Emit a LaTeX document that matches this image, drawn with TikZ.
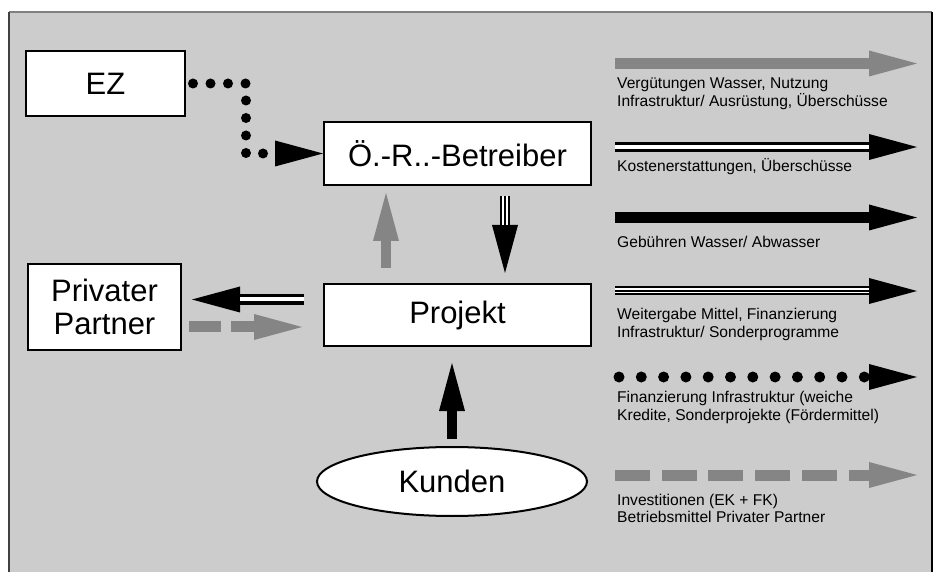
\documentclass[tikz,border=0pt]{standalone}
\usepackage{fontspec}
\setmainfont{Liberation Sans}
\usetikzlibrary{arrows.meta,positioning,shapes.geometric}
\definecolor{panelgray}{HTML}{CCCCCC}
\definecolor{flowgray}{HTML}{858585}

\begin{document}
\begin{tikzpicture}[x=1pt,y=-1pt,
box/.style={draw,line width=2pt,fill=white,align=center,inner sep=0pt,font=\fontsize{31}{32.5}\selectfont},
legend/.style={anchor=base west,align=left,inner sep=0pt,font=\fontsize{15.6}{17.5}\selectfont},
head/.style={-{Triangle[length=48pt,width=26pt,line width=0pt]}},
solidflow/.style={head,line width=10pt},
grayflow/.style={solidflow,draw=flowgray},
dashflow/.style={grayflow,dash pattern=on 33pt off 11pt},
dotflow/.style={head,line width=10pt,line cap=round,dash pattern=on 0pt off 17.5pt},
gap/.style={white,line width=3.6pt},
core/.style={black,line width=1.6pt}]
\useasboundingbox (0,0) rectangle (938,572);
% panel
\fill[panelgray] (9,12) rectangle (932,580);
\draw[line width=1.5pt,draw=gray] (9,12) -- (932,12);
\draw[line width=2pt,draw=black!75] (9,12) -- (9,580);
\draw[line width=2.5pt] (932,12) -- (932,580);

% actors
\node[box,minimum width=159pt,minimum height=65pt] (ez) at (105.5,83.5) {EZ};
\node[box,minimum width=267pt,minimum height=63pt] (betr) at (457.5,153.5) {Ö.-R..-Betreiber};
\node[box,minimum width=267pt,minimum height=62pt] (proj) at (457.5,315) {Projekt};
\node[box,minimum width=153pt,minimum height=86pt] (priv) at (104.5,307) {Privater\\Partner};
\node[box,ellipse,minimum width=270pt,minimum height=69pt] (kund) at (452,481.5) {Kunden};

% flows between actors
\draw[dotflow] ([xshift=7pt]ez.east) -| ([xshift=-77pt]betr.west) -- (betr.west);
\draw[grayflow,line width=10.5pt,shorten <=15pt,shorten >=7pt] ([xshift=-71.5pt]proj.north) -- ([xshift=-71.5pt]betr.south);
\draw[solidflow,line width=10pt,shorten <=10pt,shorten >=10pt] ([xshift=47.5pt]betr.south) -- ([xshift=47.5pt]proj.north);
\draw[gap,line width=5.5pt,shorten <=10pt,shorten >=58pt] ([xshift=47.5pt]betr.south) -- ([xshift=47.5pt]proj.north);
\draw[core,shorten <=10pt,shorten >=58pt] ([xshift=47.5pt]betr.south) -- ([xshift=47.5pt]proj.north);
\coordinate (pp-out) at ([yshift=15.5pt]proj.west);
\coordinate (pp-in) at ([yshift=-20pt]priv.east);
\draw[solidflow,line width=11pt,shorten <=19pt,shorten >=10pt] (pp-out) -- (pp-out -| priv.east);
\draw[gap,line width=4pt,shorten <=19pt,shorten >=58pt] (pp-out) -- (pp-out -| priv.east);
\draw[dashflow,line width=11pt,dash pattern=on 32pt off 10pt,shorten <=7pt,shorten >=21pt] (pp-in) -- (pp-in -| proj.west);
\draw[solidflow,shorten <=7pt,shorten >=16pt] (kund.north) -- (kund.north |- proj.south);

% legend
\foreach \n/\y in {verg/63.5,kost/147,geb/217.5,weit/291,fin/377,inv/475}{
  \coordinate (\n-a) at (615,\y);
  \coordinate (\n-b) at (917,\y);
}
\draw[grayflow,line width=11pt] (verg-a) -- (verg-b);
\draw[solidflow] (kost-a) -- (kost-b);
\draw[gap,shorten >=48pt] (kost-a) -- (kost-b);
\draw[solidflow,line width=11pt] (geb-a) -- (geb-b);
\draw[solidflow,line width=9pt] (weit-a) -- (weit-b);
\draw[gap,line width=5pt,shorten >=48pt] (weit-a) -- (weit-b);
\draw[core,shorten >=48pt] (weit-a) -- (weit-b);
\draw[dotflow,line width=11pt,dash pattern=on 0pt off 22.3pt,shorten <=4pt] (fin-a) -- (fin-b);
\draw[dashflow,line width=11pt,dash pattern=on 35pt off 11.7pt] (inv-a) -- (inv-b);

% base of a two-line label = baseline of its second line
\node[legend] (verg-t) at (617,106.5) {Vergütungen Wasser, Nutzung\\Infrastruktur/ Ausrüstung, Überschüsse};
\node[legend] (kost-t) at (617,172) {Kostenerstattungen, Überschüsse};
\node[legend] (geb-t) at (617,248) {Gebühren Wasser/ Abwasser};
\node[legend] (weit-t) at (617,337.5) {Weitergabe Mittel, Finanzierung\\Infrastruktur/ Sonderprogramme};
\node[legend] (fin-t) at (617,420.5) {Finanzierung Infrastruktur (weiche\\Kredite, Sonderprojekte (Fördermittel)};
\node[legend] (inv-t) at (617,522.5) {Investitionen (EK + FK)\\Betriebsmittel Privater Partner};
\end{tikzpicture}
\end{document}
